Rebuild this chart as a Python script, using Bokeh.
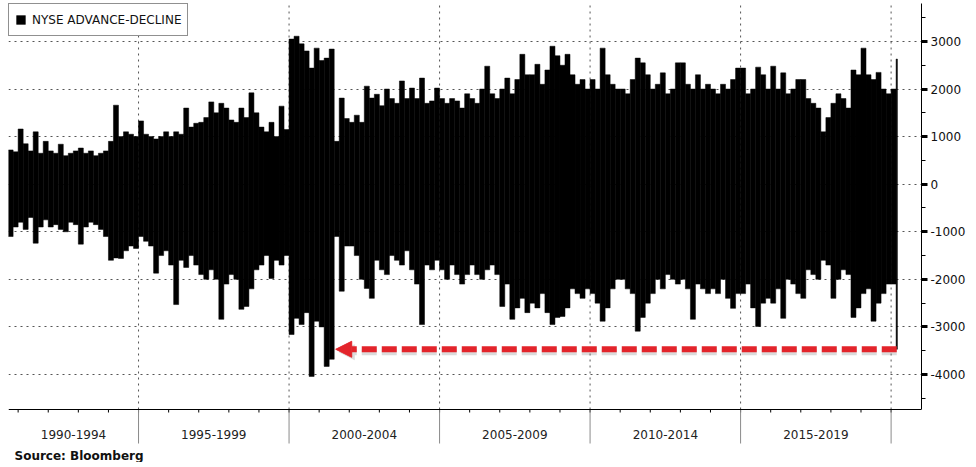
from bokeh.plotting import figure
from bokeh.models import FixedTicker, Arrow, NormalHead, Span
from bokeh.core.properties import value
from bokeh.embed import file_html
from bokeh.resources import INLINE

# NYSE advance-decline: daily extremes read per two-month period (high / low)
hi_1990_94 = [720, 680,
              1160, 850, 700, 1100, 650, 900,
              700, 650, 840, 600, 650, 700,
              760, 650, 700, 600, 650, 700,
              900, 1660, 1000, 1100, 1050, 1000]
lo_1990_94 = [-1100, -900,
              -800, -950, -700, -1240, -900, -750,
              -900, -850, -950, -1000, -800, -850,
              -1260, -900, -800, -850, -950, -1100,
              -1600, -1550, -1560, -1400, -1300, -1350]
hi_1995_99 = [1330, 1050, 1000, 950, 1000, 1100,
              1000, 1100, 1050, 1600, 1200, 1280,
              1300, 1400, 1730, 1500, 1700, 1600,
              1350, 1300, 1600, 1400, 1920, 1500,
              1200, 1100, 1300, 1000, 1640, 1150]
lo_1995_99 = [-1100, -1200, -1300, -1870, -1500, -1400,
              -1700, -2530, -1600, -1750, -1500, -1700,
              -1900, -2000, -1800, -2000, -2840, -2100,
              -1900, -2000, -2630, -2570, -2200, -1800,
              -1700, -1500, -1980, -1600, -1700, -1500]
hi_2000_04 = [3050, 3110, 2950, 2800, 2440, 2860,
              2600, 2650, 2840, 900, 1810, 1380,
              1300, 1450, 1300, 2060, 1810, 1890,
              1650, 2000, 1800, 1700, 2170, 1800,
              2020, 1800, 2230, 1700, 1750, 2020]
lo_2000_04 = [-3160, -2820, -2950, -2700, -4040, -2880,
              -3000, -3830, -3680, -1100, -2250, -1300,
              -1300, -1500, -2000, -2190, -2400, -1600,
              -1800, -1900, -1500, -1600, -1700, -1400,
              -1800, -2100, -2950, -1700, -1800, -1600]
hi_2005_09 = [1800, 1700, 1800, 1750, 1600, 1900,
              1800, 1700, 2000, 2480, 1900, 1800,
              2000, 2230, 1900, 2200, 2730, 2300,
              2300, 2520, 2100, 2400, 2900, 2700,
              2500, 2730, 2300, 2100, 2200, 2000]
lo_2005_09 = [-1800, -2000, -1700, -1900, -2100, -1900,
              -1700, -1900, -2000, -1800, -1700, -1900,
              -2570, -2100, -2840, -2600, -2400, -2700,
              -2500, -2600, -2300, -2700, -2950, -2800,
              -2780, -2600, -2200, -2300, -2400, -2200]
hi_2010_14 = [2200, 2000, 2860, 2300, 2100, 2000,
              2000, 1900, 2200, 2650, 2550, 2300,
              2000, 2100, 2340, 1900, 2000, 2550,
              2550, 2100, 2000, 2300, 2000, 2100,
              2000, 1900, 2100, 2000, 2200, 2440]
lo_2010_14 = [-2300, -2500, -2880, -2600, -2200, -2000,
              -2000, -2200, -2300, -3090, -2800, -2500,
              -2300, -2000, -2200, -1900, -2000, -2100,
              -2000, -2200, -2840, -2100, -2200, -2300,
              -2200, -2300, -2000, -2400, -2610, -2300]
hi_2015_19 = [2440, 1900, 2000, 2460, 2300, 2000,
              2480, 2000, 2340, 1900, 2000, 2200,
              2200, 1800, 1700, 1600, 1100, 1400,
              1700, 1900, 1800, 1600, 2400, 2300,
              2860, 2300, 2200, 2350, 2000, 1900]
lo_2015_19 = [-2300, -2100, -2600, -2990, -2500, -2400,
              -2500, -2200, -2820, -2000, -2100, -2300,
              -2400, -1800, -1900, -2000, -1600, -1700,
              -2400, -2000, -1800, -1900, -2800, -2600,
              -2300, -2200, -2880, -2500, -2300, -2100]
hi_2020 = [2000, 2630]
lo_2020 = [-2100, -3470]

period_labels = ["1990-1994", "1995-1999", "2000-2004", "2005-2009", "2010-2014", "2015-2019"]
period_bounds = [1995, 2000, 2005, 2010, 2015, 2020]
year_ticks = list(range(1991, 2021))
y_ticks = [-4000, -3000, -2000, -1000, 0, 1000, 2000, 3000]
y_minor = [-4500, -3500, -2500, -1500, -500, 500, 1500, 2500, 3500]

first_period = 1990 + 8 / 12     # data start: Sep 1990
period_len = 1 / 6               # two months
last_day = 2020.21               # mid-March 2020

hi = hi_1990_94 + hi_1995_99 + hi_2000_04 + hi_2005_09 + hi_2010_14 + hi_2015_19 + hi_2020
lo = lo_1990_94 + lo_1995_99 + lo_2000_04 + lo_2005_09 + lo_2010_14 + lo_2015_19 + lo_2020
left = [first_period + i * period_len for i in range(len(hi))]
right = [min(l + period_len, last_day) for l in left]

FONT = "DejaVu Sans"
PX = 1000 / 47.57            # value units per pixel on the y scale
Y_TOP = 3798
Y_AXIS = -4736               # where the time axis line sits
Y_BOTTOM = -5850
X0, X1 = 1990.68, 2021.01

p = figure(frame_width=913, frame_height=459,
           x_range=(X0, X1), y_range=(Y_BOTTOM, Y_TOP),
           x_axis_location=None, y_axis_location="right",
           output_backend="svg", toolbar_location=None,
           min_border_left=8, min_border_top=3, min_border_bottom=0, min_border_right=0)
p.outline_line_color = None
p.background_fill_color = "white"
for g in p.xgrid:
    g.visible = False

# vertical dotted grid lines at 5-year boundaries (above the axis only)
p.segment(x0=period_bounds, y0=[Y_AXIS] * len(period_bounds),
          x1=period_bounds, y1=[Y_TOP] * len(period_bounds),
          line_color="#555555", line_dash="2 4", line_width=1)

p.quad(left=left, right=right, bottom=lo, top=hi,
       fill_color="black", line_color="black", line_width=0.5,
       legend_label="NYSE ADVANCE-DECLINE")

# horizontal dotted grid
for g in p.ygrid:
    g.grid_line_color = "#555555"
    g.grid_line_dash = "2 4"
    g.grid_line_width = 1

# time axis drawn below the data
p.add_layout(Span(location=Y_AXIS, dimension="width", line_color="black", line_width=1))
p.segment(x0=year_ticks, y0=[Y_AXIS] * len(year_ticks),
          x1=year_ticks, y1=[Y_AXIS - 3 * PX] * len(year_ticks),
          line_color="black", line_width=1)
p.segment(x0=period_bounds, y0=[Y_AXIS] * len(period_bounds),
          x1=period_bounds, y1=[Y_AXIS - 34 * PX] * len(period_bounds),
          line_color="#8a8a8a", line_width=1)
mid_first = (X0 + period_bounds[0]) / 2
centers = [mid_first] + [b + 2.5 for b in period_bounds[:-1]]
p.text(x=centers, y=[Y_AXIS - 25 * PX] * len(centers), text=period_labels,
       text_align="center", text_baseline="middle",
       text_font=value(FONT), text_font_size="12px", text_color="#222222")
p.text(x=[1990.88], y=[Y_AXIS - 46 * PX], text=["Source: Bloomberg"],
       text_align="left", text_baseline="middle",
       text_font=value(FONT), text_font_size="12px", text_font_style="bold",
       text_color="#111111")

# right axis
ya = p.yaxis[0]
ya.ticker = FixedTicker(ticks=y_ticks, minor_ticks=y_minor)
ya.major_label_overrides = {t: str(t) for t in y_ticks}
ya.bounds = (Y_AXIS, Y_TOP)
ya.major_tick_out = 6
ya.major_tick_in = 0
ya.major_tick_line_width = 3
ya.minor_tick_out = 4
ya.minor_tick_in = 0
ya.major_label_standoff = 3
ya.major_label_text_font = FONT
ya.major_label_text_font_size = "12px"
ya.major_label_text_color = "#111111"
ya.axis_line_color = "black"

# red dashed arrow at the March-2020 low
level = lo_2020[-1]
x_from = left[-1] + (right[-1] - left[-1]) / 2
x_to = 2001.55
p.add_layout(Arrow(x_start=x_from, y_start=level - 3 * PX, x_end=x_to + 0.1, y_end=level - 3 * PX,
                   line_color="#888888", line_alpha=0.3, line_width=6, line_dash="15 5",
                   end=NormalHead(size=16, fill_color="#888888", fill_alpha=0.3, line_color=None)))
p.add_layout(Arrow(x_start=x_from, y_start=level, x_end=x_to, y_end=level,
                   line_color="#e3242b", line_width=6, line_dash="15 5",
                   end=NormalHead(size=16, fill_color="#e3242b", line_color="#e3242b")))

# legend
lg = p.legend[0]
lg.location = "top_left"
lg.margin = 0
lg.padding = 6
lg.spacing = 0
lg.label_height = 19
lg.glyph_width = 11
lg.glyph_height = 11
lg.label_standoff = 6
lg.border_line_color = "#222222"
lg.border_line_width = 1
lg.background_fill_alpha = 1
lg.label_text_font = FONT
lg.label_text_font_size = "12px"
lg.label_text_color = "#111111"

open("out.html", "w").write(file_html(p, INLINE))
